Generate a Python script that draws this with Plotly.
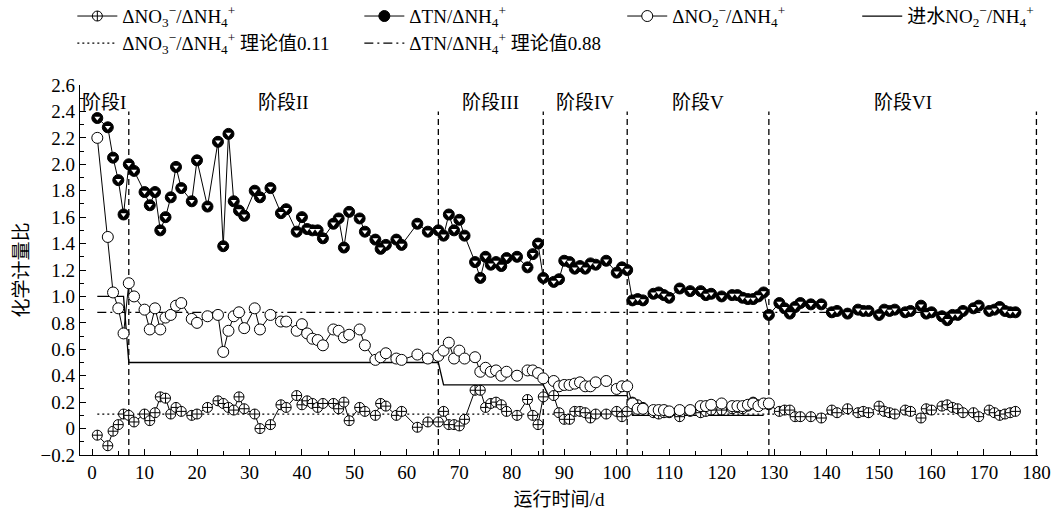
import plotly.graph_objects as go

# ---------------- data ----------------
days_a = [1, 3, 4, 5, 6, 7, 8, 10, 11, 12, 13, 14, 15, 16, 17, 19, 20, 22, 24, 25,
          26, 27, 28, 29, 31, 32, 34, 36, 37, 39, 40, 41, 42, 43, 44, 46, 47, 48, 49, 51,
          52, 54, 55, 56, 58, 59, 62, 64, 66, 67, 68, 69, 70, 71, 73, 74, 75, 76, 77, 78,
          79, 81, 83, 84, 85, 86, 88, 89, 90, 91, 92, 93, 94, 95, 96, 98, 100, 101, 102, 103,
          104, 105, 107, 108, 109, 110, 112, 114, 116, 117, 118, 120, 122, 123, 124, 125, 126, 127, 128, 129]
days_b = [131, 132, 133, 134, 135, 137, 139, 141, 142, 144, 146, 147, 148, 150, 151, 152, 153, 155,
          156, 158, 159, 160, 162, 163, 164, 165, 166, 168, 169, 171, 172, 173, 174, 175, 176]

tn_a = [2.35, 2.28, 2.05, 1.88, 1.62, 2.00, 1.95, 1.79, 1.69, 1.79, 1.50, 1.60, 1.75, 1.98, 1.82, 1.72, 2.03, 1.68, 2.17, 1.38,
        2.23, 1.72, 1.65, 1.61, 1.80, 1.75, 1.82, 1.63, 1.66, 1.49, 1.60, 1.51, 1.50, 1.50, 1.44, 1.55, 1.59, 1.37, 1.64, 1.59,
        1.49, 1.43, 1.36, 1.39, 1.43, 1.39, 1.55, 1.49, 1.50, 1.46, 1.62, 1.50, 1.58, 1.46, 1.26, 1.14, 1.30, 1.24, 1.26, 1.23,
        1.29, 1.30, 1.22, 1.32, 1.40, 1.14, 1.11, 1.13, 1.27, 1.26, 1.21, 1.23, 1.21, 1.25, 1.24, 1.27, 1.18, 1.22, 1.20, 0.97,
        0.98, 0.97, 1.02, 1.03, 1.01, 0.99, 1.06, 1.04, 1.04, 1.01, 1.02, 1.00, 1.01, 1.01, 0.99, 0.98, 0.98, 1.00, 1.03, 0.86]
tn_b = [0.95, 0.91, 0.87, 0.92, 0.95, 0.94, 0.94, 0.88, 0.89, 0.87, 0.90, 0.89, 0.89, 0.86, 0.90, 0.89, 0.90, 0.88,
        0.89, 0.93, 0.87, 0.88, 0.85, 0.82, 0.86, 0.86, 0.89, 0.91, 0.93, 0.89, 0.90, 0.92, 0.89, 0.88, 0.88]

no2_a = [2.20, 1.45, 1.03, 0.91, 0.72, 1.10, 1.00, 0.90, 0.75, 0.91, 0.75, 0.84, 0.86, 0.93, 0.95, 0.83, 0.80, 0.85, 0.86, 0.58,
         0.74, 0.85, 0.88, 0.76, 0.91, 0.75, 0.86, 0.81, 0.81, 0.74, 0.79, 0.72, 0.68, 0.67, 0.63, 0.75, 0.74, 0.69, 0.71, 0.75,
         0.63, 0.52, 0.54, 0.57, 0.53, 0.52, 0.56, 0.53, 0.55, 0.59, 0.65, 0.53, 0.59, 0.53, 0.54, 0.43, 0.46, 0.43, 0.44, 0.40,
         0.43, 0.40, 0.44, 0.44, 0.42, 0.38, 0.36, 0.32, 0.33, 0.33, 0.34, 0.35, 0.32, 0.32, 0.35, 0.36, 0.30, 0.32, 0.32, 0.19,
         0.15, 0.15, 0.14, 0.14, 0.14, 0.13, 0.14, 0.14, 0.17, 0.17, 0.18, 0.19, 0.17, 0.17, 0.17, 0.18, 0.19, 0.17, 0.19, 0.19]

no3_a = [-0.05, -0.13, -0.02, 0.03, 0.11, 0.10, 0.05, 0.11, 0.06, 0.12, 0.24, 0.23, 0.11, 0.16, 0.13, 0.10, 0.11, 0.16, 0.21, 0.19,
         0.16, 0.14, 0.24, 0.15, 0.11, 0.00, 0.03, 0.18, 0.16, 0.25, 0.18, 0.21, 0.19, 0.16, 0.19, 0.19, 0.15, 0.20, 0.06, 0.16,
         0.13, 0.10, 0.19, 0.17, 0.10, 0.13, 0.01, 0.05, 0.05, 0.13, 0.03, 0.03, 0.02, 0.07, 0.29, 0.29, 0.16, 0.19, 0.20, 0.18,
         0.13, 0.10, 0.22, 0.10, 0.03, 0.24, 0.25, 0.12, 0.07, 0.07, 0.13, 0.13, 0.12, 0.08, 0.11, 0.11, 0.13, 0.09, 0.13, 0.20,
         0.18, 0.16, 0.12, 0.11, 0.12, 0.12, 0.09, 0.13, 0.12, 0.13, 0.14, 0.14, 0.15, 0.16, 0.15, 0.17, 0.20, 0.18, 0.19, 0.18]
no3_b = [0.13, 0.14, 0.14, 0.09, 0.09, 0.09, 0.08, 0.14, 0.12, 0.15, 0.12, 0.13, 0.12, 0.17, 0.13, 0.12, 0.11, 0.14,
         0.13, 0.08, 0.15, 0.14, 0.17, 0.18, 0.16, 0.15, 0.12, 0.12, 0.09, 0.14, 0.12, 0.10, 0.11, 0.12, 0.13]

inf_days = [1, 6, 7, 66, 67, 86, 87, 102, 103, 128]
inf_ratio = [1.0, 1.0, 0.5, 0.5, 0.33, 0.33, 0.25, 0.25, 0.10, 0.10]

theory_no3 = 0.11
theory_tn = 0.88
theory_span = [1, 176]

stage_bounds = [7, 66, 86, 102, 129, 180]
stage_names = ["阶段I", "阶段II", "阶段III", "阶段IV", "阶段V", "阶段VI"]

xtick_vals = list(range(0, 181, 10))
ytick_vals = [-0.2, 0, 0.2, 0.4, 0.6, 0.8, 1.0, 1.2, 1.4, 1.6, 1.8, 2.0, 2.2, 2.4, 2.6]
ytick_text = ["−0.2", "0", "0.2", "0.4", "0.6", "0.8", "1.0", "1.2", "1.4", "1.6", "1.8", "2.0", "2.2", "2.4", "2.6"]

name_no3 = "ΔNO<sub>3</sub><sup>−</sup>/ΔNH<sub>4</sub><sup>+</sup>"
name_tn = "ΔTN/ΔNH<sub>4</sub><sup>+</sup>"
name_no2 = "ΔNO<sub>2</sub><sup>−</sup>/ΔNH<sub>4</sub><sup>+</sup>"
name_inf = "进水NO<sub>2</sub><sup>−</sup>/NH<sub>4</sub><sup>+</sup>"
name_t_no3 = "ΔNO<sub>3</sub><sup>−</sup>/ΔNH<sub>4</sub><sup>+</sup> 理论值0.11"
name_t_tn = "ΔTN/ΔNH<sub>4</sub><sup>+</sup> 理论值0.88"

# ---------------- figure ----------------
FONT = "Liberation Serif, 'Times New Roman', 'Noto Sans CJK SC', serif"
X_MIN = -2.3

fig = go.Figure()

fig.add_trace(go.Scatter(x=theory_span, y=[theory_no3] * 2, mode="lines", name=name_t_no3,
                         line=dict(color="black", width=1.2, dash="2px,3px"),
                         legend="legend3", legendrank=1))
fig.add_trace(go.Scatter(x=theory_span, y=[theory_tn] * 2, mode="lines", name=name_t_tn,
                         line=dict(color="black", width=1.2, dash="9px,4px,2px,4px"),
                         legend="legend3", legendrank=2))
fig.add_trace(go.Scatter(x=inf_days, y=inf_ratio, mode="lines", name=name_inf,
                         line=dict(color="black", width=1.3),
                         legend="legend2", legendrank=2))

fig.add_trace(go.Scatter(x=days_a + days_b, y=no3_a + no3_b, mode="lines+markers", name=name_no3,
                         line=dict(color="black", width=1),
                         marker=dict(symbol="circle-cross", size=10, color="white",
                                     line=dict(color="black", width=1)),
                         legend="legend", legendrank=1))
fig.add_trace(go.Scatter(x=days_a + days_b, y=tn_a + tn_b, mode="lines+markers", name=name_tn,
                         line=dict(color="black", width=1),
                         marker=dict(symbol="circle", size=11, color="black",
                                     line=dict(color="black", width=1)),
                         legend="legend", legendrank=2))
fig.add_trace(go.Scatter(x=days_a + days_b, y=tn_a + tn_b, mode="markers", showlegend=False,
                         hoverinfo="skip",
                         marker=dict(symbol="triangle-down", size=5, color="white")))
fig.add_trace(go.Scatter(x=days_a, y=no2_a, mode="lines+markers", name=name_no2,
                         line=dict(color="black", width=1),
                         marker=dict(symbol="circle", size=11, color="white",
                                     line=dict(color="black", width=1)),
                         legend="legend2", legendrank=1))

for b in stage_bounds:
    fig.add_shape(type="line", xref="x", yref="y", x0=b, x1=b, y0=-0.2, y1=2.4,
                  line=dict(color="black", width=1.3, dash="6px,4px"), layer="below")

edges = [X_MIN] + stage_bounds
for i, nm in enumerate(stage_names):
    fig.add_annotation(x=(edges[i] + edges[i + 1]) / 2, y=2.47, text=nm, showarrow=False,
                       xref="x", yref="y", font=dict(size=19, color="black", family=FONT))

legend_common = dict(orientation="h", xanchor="left", yanchor="middle",
                     bgcolor="rgba(0,0,0,0)", itemwidth=40, traceorder="normal",
                     font=dict(size=19, color="black", family=FONT), itemclick=False)
fig.update_layout(
    width=1052, height=513,
    margin=dict(l=80, r=14, t=85, b=58, autoexpand=False),
    paper_bgcolor="white", plot_bgcolor="white",
    font=dict(family=FONT, size=19, color="black"),
    showlegend=True,
    legend=dict(x=-0.008, y=1.186, entrywidth=232, **legend_common),
    legend2=dict(x=0.566, y=1.186, entrywidth=180, **legend_common),
    legend3=dict(x=-0.008, y=1.113, entrywidth=232, **legend_common),
    xaxis=dict(range=[X_MIN, 180.3], tickmode="array", tickvals=xtick_vals,
               ticks="inside", ticklen=6, tickwidth=1, tickcolor="black",
               minor=dict(dtick=5, tick0=0, ticks="inside", ticklen=4, tickcolor="black"),
               showline=True, linecolor="black", linewidth=1.3, showgrid=False, zeroline=False,
               tickfont=dict(size=19, family=FONT, color="black"),
               title=dict(text="运行时间/d", font=dict(size=19, family=FONT, color="black"), standoff=10)),
    yaxis=dict(range=[-0.2, 2.6], tickmode="array", tickvals=ytick_vals, ticktext=ytick_text,
               ticks="inside", ticklen=6, tickwidth=1, tickcolor="black",
               minor=dict(tickmode="linear", tick0=-0.2, dtick=0.1, ticks="inside", ticklen=4, tickcolor="black"),
               showline=True, linecolor="black", linewidth=1.3, showgrid=False, zeroline=False,
               tickfont=dict(size=19, family=FONT, color="black"),
               title=dict(text="化学计量比", font=dict(size=19, family=FONT, color="black"), standoff=6)),
)

fig.write_html("out.html")
